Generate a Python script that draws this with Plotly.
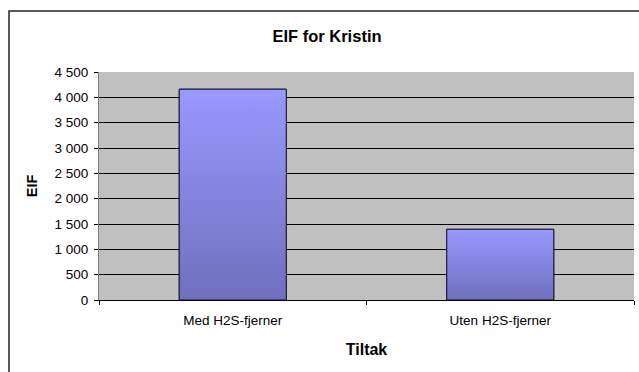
import plotly.graph_objects as go

# Data
categories = ["Med H2S-fjerner", "Uten H2S-fjerner"]
eif_values = [4160, 1395]
y_ticks = [0, 500, 1000, 1500, 2000, 2500, 3000, 3500, 4000, 4500]

FONT = "Liberation Sans, Arial, sans-serif"
BAR_WIDTH = 0.4
positions = list(range(len(categories)))

fig = go.Figure()

# Plain bars carrying the values
fig.add_trace(go.Bar(
    x=positions, y=eif_values, width=BAR_WIDTH,
    marker=dict(color="#8484DA", line=dict(color="#000000", width=1)),
    hoverinfo="x+y", showlegend=False,
))

# Vertical gradient shading on top of each bar
for pos, val in zip(positions, eif_values):
    half = BAR_WIDTH / 2
    fig.add_trace(go.Scatter(
        x=[pos - half, pos + half, pos + half, pos - half, pos - half],
        y=[0, 0, val, val, 0],
        mode="lines", fill="toself",
        line=dict(color="#1a1a3a", width=1),
        fillgradient=dict(type="vertical", start=0, stop=val,
                          colorscale=[[0, "#6F6FBD"], [1, "#9999FF"]]),
        hoverinfo="skip", showlegend=False,
    ))

fig.update_layout(
    width=639, height=372,
    margin=dict(l=99, r=5, t=72, b=72),
    paper_bgcolor="white", plot_bgcolor="#C0C0C0",
    separators=", ",
    font=dict(family=FONT, size=13.5, color="#000000"),
    title=dict(text="<b>EIF for Kristin</b>", x=327 / 639, xref="container",
               xanchor="center", y=1 - 36 / 372, yref="container", yanchor="middle",
               font=dict(family=FONT, size=16.5, color="#000000")),
    showlegend=False,
)

fig.update_xaxes(
    range=[-0.5, len(categories) - 0.5],
    tickmode="array", tickvals=positions, ticktext=categories,
    ticks="", showgrid=False, zeroline=False,
    showline=True, linecolor="#000000", linewidth=1,
    minor=dict(tickmode="array",
               tickvals=[p + 0.5 for p in [-1] + positions],
               ticks="outside", ticklen=4, tickcolor="#000000", tickwidth=1,
               showgrid=False),
    ticklabelstandoff=8,
    tickfont=dict(family=FONT, size=13.5),
    title=dict(text="<b>Tiltak</b>", font=dict(family=FONT, size=16), standoff=16),
)

fig.update_yaxes(
    range=[0, 4500],
    tickmode="array", tickvals=y_ticks, tickformat=",d",
    ticks="outside", ticklen=4, tickcolor="#000000", tickwidth=1,
    showgrid=True, gridcolor="#000000", gridwidth=1,
    zeroline=False,
    showline=True, linecolor="#808080", linewidth=1,
    ticklabelstandoff=3,
    tickfont=dict(family=FONT, size=13.5),
    title=dict(text="<b>EIF</b>", font=dict(family=FONT, size=14.5), standoff=13),
)

# Chart frame
fig.add_shape(type="rect", xref="paper", yref="paper",
              x0=(9 - 99) / 535, x1=(650 - 99) / 535,
              y0=(300 - 390) / 228, y1=(300 - 11) / 228,
              line=dict(color="#222222", width=1.5), fillcolor="rgba(0,0,0,0)",
              layer="above")

fig.write_html("out.html")
